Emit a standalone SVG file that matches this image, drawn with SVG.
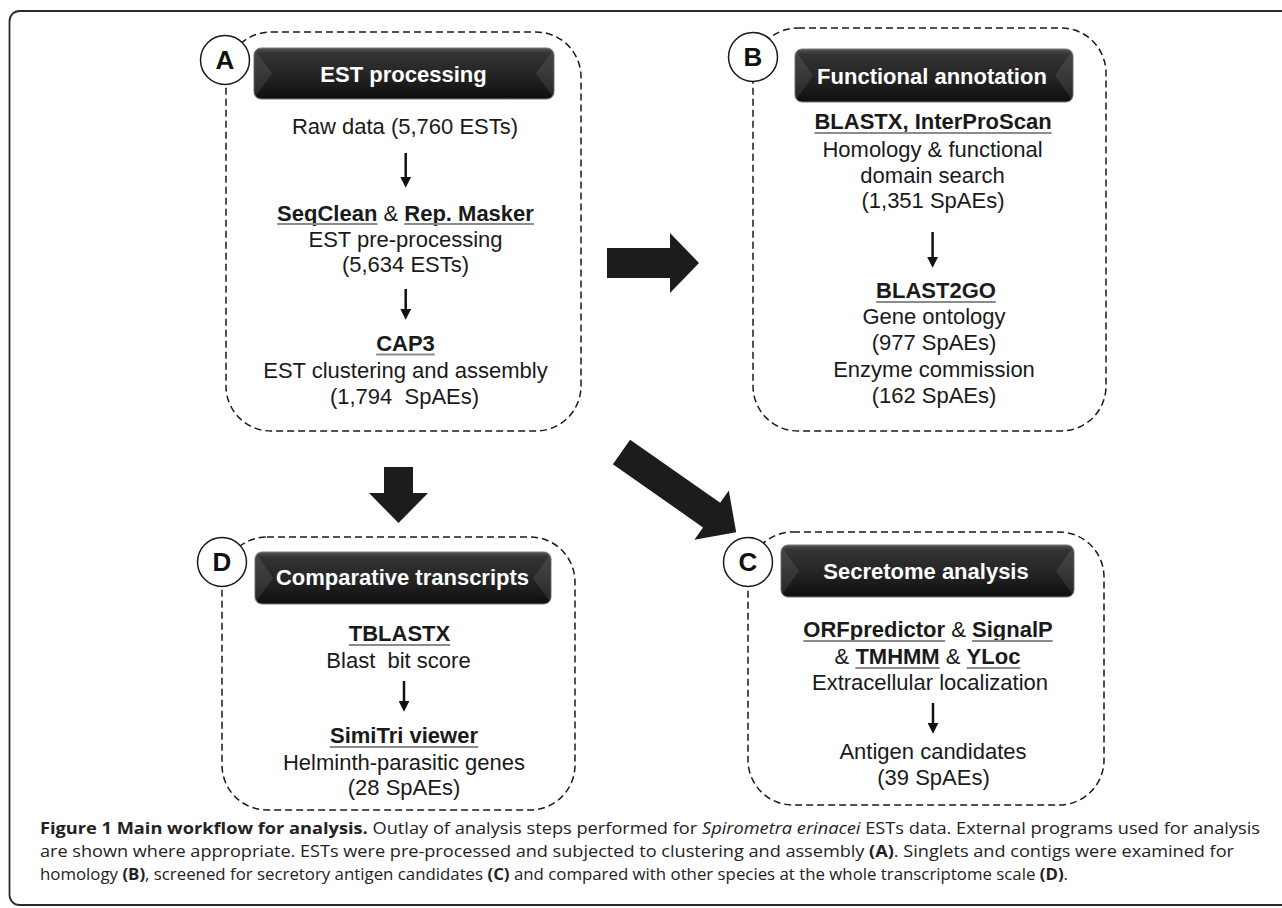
<svg xmlns="http://www.w3.org/2000/svg" width="1282" height="908" viewBox="0 0 1282 908">
<defs>
<linearGradient id="hg" x1="0" y1="0" x2="0" y2="1">
<stop offset="0" stop-color="#555"/>
<stop offset="0.1" stop-color="#333"/>
<stop offset="0.55" stop-color="#242424"/>
<stop offset="1" stop-color="#0e0e0e"/>
</linearGradient>
<marker id="ah" viewBox="0 0 10 10" refX="2" refY="5" markerWidth="11" markerHeight="11" markerUnits="userSpaceOnUse" orient="auto">
<path d="M0,0 L10,5 L0,10 z" fill="#111"/>
</marker>
<style>
.frame{fill:none;stroke:#2a2a2a;stroke-width:1.8}
.box{fill:none;stroke:#1a1a1a;stroke-width:1.5;stroke-dasharray:7 4}
.circ{fill:#fff;stroke:#1a1a1a;stroke-width:1.5}
.lt{font-family:"Liberation Sans",Arial,sans-serif;font-weight:bold;font-size:26px;fill:#111;text-anchor:middle}
.hbar{fill:url(#hg);stroke:#777;stroke-width:1}
.facet{fill:#fff;opacity:0.09}
.hd{font-family:"Liberation Sans",Arial,sans-serif;font-weight:bold;font-size:22px;fill:#fff;text-anchor:middle}
.t{font-family:"Liberation Sans",Arial,sans-serif;font-size:22px;fill:#1a1a1a;text-anchor:middle}
.b{font-weight:bold}
.ul{stroke:#8c8c8c;stroke-width:1.8}
.sa{stroke:#111;stroke-width:2.5;marker-end:url(#ah)}
.big{fill:#1c1c1c}
.cap{font-family:"Open Sans","Liberation Sans",sans-serif;font-size:16px;fill:#222}
</style>
</defs>
<rect class="frame" x="9.5" y="11" width="1300" height="894" rx="10"/>

<g id="panelA">
<rect class="box" x="226" y="32" width="355" height="399" rx="45"/>
<circle class="circ" cx="225" cy="60" r="24.5"/>
<text class="lt" x="225" y="69.3">A</text>
<rect class="hbar" x="254" y="48" width="300" height="51" rx="7"/>
<polygon class="facet" points="255,50 272,73.5 255,97"/>
<polygon class="facet" points="553,50 536,73.5 553,97"/>
<text class="hd" x="403.5" y="81.5">EST processing</text>
<text class="t" x="405" y="134">Raw data (5,760 ESTs)</text>
<text class="t" x="405.5" y="221"><tspan class="b">SeqClean</tspan> &amp; <tspan class="b">Rep. Masker</tspan></text>
<line class="ul" x1="277.1" y1="224" x2="377.4" y2="224"/>
<line class="ul" x1="404.3" y1="224" x2="533.9" y2="224"/>
<text class="t" x="405.5" y="247">EST pre-processing</text>
<text class="t" x="405.5" y="272">(5,634 ESTs)</text>
<text class="t b" x="405.5" y="351">CAP3</text>
<line class="ul" x1="376.2" y1="354.5" x2="434.8" y2="354.5"/>
<text class="t" x="405.5" y="378">EST clustering and assembly</text>
<text class="t" x="404.5" y="404" style="white-space:pre">(1,794  SpAEs)</text>
</g>

<g id="panelB">
<rect class="box" x="753" y="28" width="353" height="403" rx="45"/>
<circle class="circ" cx="753" cy="57" r="24.5"/>
<text class="lt" x="753" y="66.3">B</text>
<rect class="hbar" x="795" y="49" width="278" height="53" rx="7"/>
<polygon class="facet" points="796,51 813,75.5 796,100"/>
<polygon class="facet" points="1072,51 1055,75.5 1072,100"/>
<text class="hd" x="932" y="83.5">Functional annotation</text>
<text class="t b" x="933" y="129">BLASTX, InterProScan</text>
<line class="ul" x1="814.4" y1="133" x2="1051.6" y2="133"/>
<text class="t" x="932.5" y="157">Homology &amp; functional</text>
<text class="t" x="932.5" y="183">domain search</text>
<text class="t" x="933" y="208">(1,351 SpAEs)</text>
<text class="t b" x="936" y="298">BLAST2GO</text>
<line class="ul" x1="876.1" y1="302" x2="995.9" y2="302"/>
<text class="t" x="934" y="324">Gene ontology</text>
<text class="t" x="934" y="350">(977 SpAEs)</text>
<text class="t" x="934" y="377">Enzyme commission</text>
<text class="t" x="934" y="403">(162 SpAEs)</text>
</g>

<g id="panelC">
<rect class="box" x="748" y="532" width="356" height="273" rx="45"/>
<circle class="circ" cx="748" cy="562" r="24.5"/>
<text class="lt" x="748" y="571.3">C</text>
<rect class="hbar" x="781" y="545" width="293" height="52" rx="7"/>
<polygon class="facet" points="782,547 799,571 782,595"/>
<polygon class="facet" points="1073,547 1056,571 1073,595"/>
<text class="hd" x="926" y="579">Secretome analysis</text>
<text class="t" x="928" y="637"><tspan class="b">ORFpredictor</tspan> &amp; <tspan class="b">SignalP</tspan></text>
<line class="ul" x1="803.3" y1="641" x2="945.1" y2="641"/>
<line class="ul" x1="972" y1="641" x2="1052.7" y2="641"/>
<text class="t" x="927.5" y="664">&amp; <tspan class="b">TMHMM</tspan> &amp; <tspan class="b">YLoc</tspan></text>
<line class="ul" x1="855.4" y1="668" x2="939.7" y2="668"/>
<line class="ul" x1="966.6" y1="668" x2="1020.4" y2="668"/>
<text class="t" x="930" y="690">Extracellular localization</text>
<text class="t" x="933" y="759">Antigen candidates</text>
<text class="t" x="933.5" y="785">(39 SpAEs)</text>
</g>

<g id="panelD">
<rect class="box" x="222" y="537" width="353" height="273" rx="45"/>
<circle class="circ" cx="222" cy="562" r="24.5"/>
<text class="lt" x="222" y="571.3">D</text>
<rect class="hbar" x="255" y="552" width="296" height="52" rx="7"/>
<polygon class="facet" points="256,554 273,578 256,602"/>
<polygon class="facet" points="550,554 533,578 550,602"/>
<text class="hd" x="402.5" y="585">Comparative transcripts</text>
<text class="t b" x="399.5" y="641">TBLASTX</text>
<line class="ul" x1="348.8" y1="645" x2="450.2" y2="645"/>
<text class="t" x="398.5" y="668" style="white-space:pre">Blast  bit score</text>
<text class="t b" x="404" y="743">SimiTri viewer</text>
<line class="ul" x1="329.6" y1="747" x2="478.4" y2="747"/>
<text class="t" x="404" y="770">Helminth-parasitic genes</text>
<text class="t" x="404" y="795">(28 SpAEs)</text>
</g>

<g id="connectors">
<line class="sa" x1="405.7" y1="153" x2="405.7" y2="179"/>
<line class="sa" x1="405.7" y1="289" x2="405.7" y2="311"/>
<line class="sa" x1="932.6" y1="232" x2="932.6" y2="259"/>
<line class="sa" x1="933" y1="703" x2="933" y2="725"/>
<line class="sa" x1="404" y1="681" x2="404" y2="703"/>
<polygon class="big" points="607,248 670,248 670,233 699,263 670,293 670,278 607,278"/>
<polygon class="big" points="384,467 413,467 413,493 428,493 398.5,523 369,493 384,493"/>
<polygon class="big" transform="translate(621.5,452) rotate(35)" points="0,-15 110,-15 110,-30 140,0 110,30 110,15 0,15"/>
</g>

<g id="caption">
<text class="cap" x="40" y="834" textLength="1220" lengthAdjust="spacingAndGlyphs"><tspan font-weight="bold">Figure 1 Main workflow for analysis.</tspan> Outlay of analysis steps performed for <tspan font-style="italic">Spirometra erinacei</tspan> ESTs data. External programs used for analysis</text>
<text class="cap" x="40" y="857" textLength="1194" lengthAdjust="spacingAndGlyphs">are shown where appropriate. ESTs were pre-processed and subjected to clustering and assembly <tspan font-weight="bold">(A)</tspan>. Singlets and contigs were examined for</text>
<text class="cap" x="40" y="880" textLength="1028" lengthAdjust="spacingAndGlyphs">homology <tspan font-weight="bold">(B)</tspan>, screened for secretory antigen candidates <tspan font-weight="bold">(C)</tspan> and compared with other species at the whole transcriptome scale <tspan font-weight="bold">(D)</tspan>.</text>
</g>
</svg>
